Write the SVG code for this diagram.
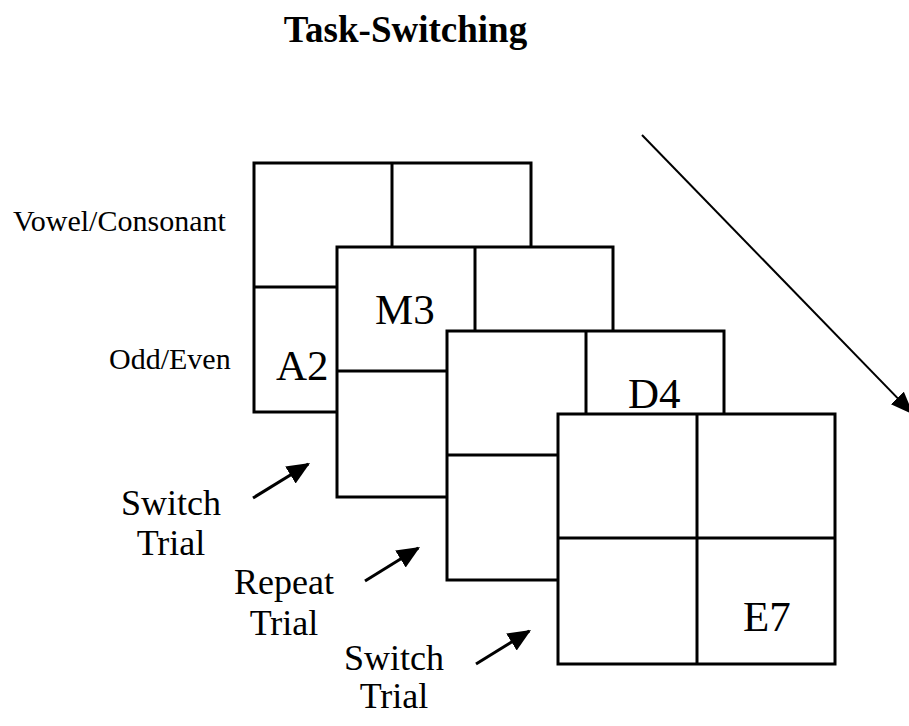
<svg xmlns="http://www.w3.org/2000/svg" width="909" height="726" viewBox="0 0 909 726">
<defs>
<style>
.grid rect{fill:#fff;stroke:#000;stroke-width:3}
.grid line{stroke:#000;stroke-width:3}
text{font-family:"Liberation Serif","Times New Roman",serif;fill:#000}
.title{font-size:37px;font-weight:bold;text-anchor:middle}
.lab{font-size:30px}
.cell{font-size:43px}
.trial{font-size:36px;text-anchor:middle}
.conn line{stroke:#000;fill:none}
</style>
<marker id="ah" markerUnits="userSpaceOnUse" markerWidth="24" markerHeight="22" refX="21" refY="10" orient="auto">
<path d="M0,0 L23,10 L0,20 z" fill="#000"/>
</marker>
<marker id="ahBig" markerUnits="userSpaceOnUse" markerWidth="26" markerHeight="20" refX="21" refY="9" orient="auto">
<path d="M0,0 L23,9 L0,18 z" fill="#000"/>
</marker>
</defs>
<rect width="909" height="726" fill="#fff"/>
<text class="title" x="405.5" y="42">Task-Switching</text>
<g id="labels">
<text class="lab" x="13" y="231">Vowel/Consonant</text>
<text class="lab" x="109" y="369">Odd/Even</text>
</g>
<g id="grid1" class="grid">
<rect x="254" y="163" width="277" height="249"/>
<line x1="392" y1="163" x2="392" y2="412"/>
<line x1="254" y1="287" x2="531" y2="287"/>
<text class="cell" x="276" y="380">A2</text>
</g>
<g id="grid2" class="grid">
<rect x="337" y="247" width="276" height="250"/>
<line x1="475" y1="247" x2="475" y2="497"/>
<line x1="337" y1="371" x2="613" y2="371"/>
<text class="cell" x="375" y="324">M3</text>
</g>
<g id="grid3" class="grid">
<rect x="447" y="331" width="277" height="249"/>
<line x1="586" y1="331" x2="586" y2="580"/>
<line x1="447" y1="455" x2="724" y2="455"/>
<text class="cell" x="628" y="408">D4</text>
</g>
<g id="grid4" class="grid">
<rect x="558" y="414" width="277" height="250"/>
<line x1="697" y1="414" x2="697" y2="664"/>
<line x1="558" y1="538" x2="835" y2="538"/>
<text class="cell" x="743" y="631">E7</text>
</g>
<g id="trial1">
<text class="trial" x="171" y="515">Switch</text>
<text class="trial" x="171" y="555">Trial</text>
</g>
<g id="trial2">
<text class="trial" x="284" y="594">Repeat</text>
<text class="trial" x="284" y="635">Trial</text>
</g>
<g id="trial3">
<text class="trial" x="394" y="670">Switch</text>
<text class="trial" x="394" y="708">Trial</text>
</g>
<g id="connectors" class="conn">
<line x1="253" y1="498" x2="308.3" y2="464" stroke-width="3" marker-end="url(#ah)"/>
<line x1="365" y1="581" x2="418.3" y2="548" stroke-width="3" marker-end="url(#ah)"/>
<line x1="476" y1="664" x2="529.3" y2="631" stroke-width="3" marker-end="url(#ah)"/>
<line x1="642" y1="135" x2="912" y2="413" stroke-width="2" marker-end="url(#ahBig)"/>
</g>
</svg>
